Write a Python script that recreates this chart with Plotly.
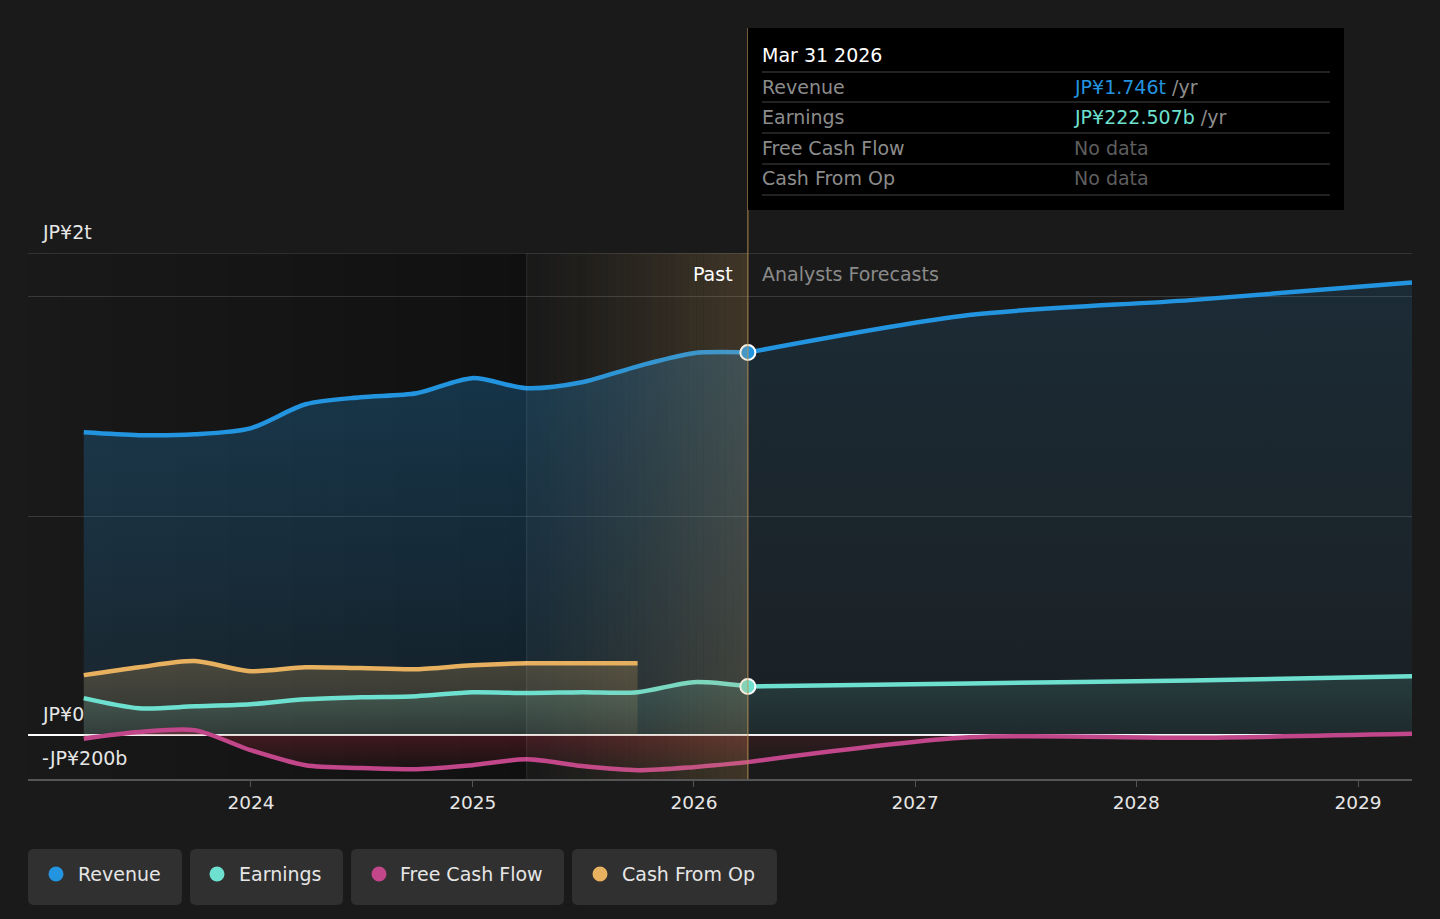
import plotly.graph_objects as go
import pandas as pd

# ---------------- data (values in JP¥ trillions) ----------------
past_dates = ["2023-03-31", "2023-06-30", "2023-09-30", "2023-12-31",
              "2024-03-31", "2024-06-30", "2024-09-30", "2024-12-31",
              "2025-03-31", "2025-06-30", "2025-09-30", "2025-12-31",
              "2026-03-31"]
revenue_past = [1.382, 1.369, 1.373, 1.400, 1.510, 1.542, 1.560, 1.629,
                1.583, 1.610, 1.683, 1.743, 1.746]
earnings_past = [0.169, 0.123, 0.132, 0.141, 0.164, 0.173, 0.178, 0.196,
                 0.192, 0.196, 0.196, 0.242, 0.2225]
fcf_past = [-0.016, 0.014, 0.023, -0.068, -0.137, -0.150, -0.155, -0.137,
            -0.110, -0.141, -0.160, -0.146, -0.123]

cfo_dates = past_dates[:11]
cfo_past = [0.274, 0.310, 0.338, 0.292, 0.310, 0.306, 0.301, 0.319,
            0.328, 0.328, 0.328]

fc_dates = ["2026-03-31", "2027-03-31", "2028-03-31", "2029-03-31"]
revenue_fc = [1.746, 1.917, 1.985, 2.065]
earnings_fc = [0.2225, 0.236, 0.249, 0.269]
fcf_fc = [-0.123, -0.010, -0.012, 0.006]

year_ticks = ["2024-01-01", "2025-01-01", "2026-01-01", "2027-01-01",
              "2028-01-01", "2029-01-01"]
year_labels = ["2024", "2025", "2026", "2027", "2028", "2029"]

series_names = ["Revenue", "Earnings", "Free Cash Flow", "Cash From Op"]
series_colors = ["#2394DF", "#6EE0CF", "#C2468A", "#E8B160"]

x_range = ["2022-12-29", "2029-03-31"]
y_range = [-0.2, 2.2]
cursor_date = "2026-03-31"
past_split = "2025-03-31"

FONT = "DejaVu Sans"
FS = 19
BG = "#1a1a1a"

# ---------------- layout helpers (pixel -> paper) ----------------
W, H = 1440, 919
L, R, T, B = 28, 28, 253, 140
PW, PH = W - L - R, H - T - B


def px2x(px):
    return (px - L) / PW


def py2y(py):
    return (H - B - py) / PH


def rounded_rect(x0, y0, x1, y1, r):
    pts = [
        ("M", [(x0 + r, y0)]),
        ("L", [(x1 - r, y0)]),
        ("Q", [(x1, y0), (x1, y0 + r)]),
        ("L", [(x1, y1 - r)]),
        ("Q", [(x1, y1), (x1 - r, y1)]),
        ("L", [(x0 + r, y1)]),
        ("Q", [(x0, y1), (x0, y1 - r)]),
        ("L", [(x0, y0 + r)]),
        ("Q", [(x0, y0), (x0 + r, y0)]),
    ]
    s = ""
    for cmd, ps in pts:
        s += cmd + " ".join(f"{px2x(a):.5f},{py2y(b):.5f}" for a, b in ps) + " "
    return s + "Z"


fig = go.Figure()


def rgba(hexc, a):
    h = hexc.lstrip("#")
    r, g, b = int(h[0:2], 16), int(h[2:4], 16), int(h[4:6], 16)
    return f"rgba({r},{g},{b},{a})"


def grad(hexc, a_low, a_high):
    return dict(type="vertical",
                colorscale=[[0, rgba(hexc, a_low)], [1, rgba(hexc, a_high)]])


line_w = 4.5
smooth = 0.8

# Revenue
fig.add_trace(go.Scatter(x=past_dates, y=revenue_past, mode="lines",
                         line=dict(color=series_colors[0], width=line_w, shape="spline", smoothing=smooth),
                         fill="tozeroy", fillgradient=grad(series_colors[0], 0.10, 0.28),
                         hoverinfo="skip", showlegend=False))
fig.add_trace(go.Scatter(x=fc_dates, y=revenue_fc, mode="lines",
                         line=dict(color=series_colors[0], width=line_w, shape="spline", smoothing=smooth),
                         fill="tozeroy", fillgradient=grad(series_colors[0], 0.05, 0.14),
                         hoverinfo="skip", showlegend=False))
# Cash From Op
fig.add_trace(go.Scatter(x=cfo_dates, y=cfo_past, mode="lines",
                         line=dict(color=series_colors[3], width=line_w, shape="spline", smoothing=smooth),
                         fill="tozeroy", fillgradient=grad(series_colors[3], 0.10, 0.24),
                         hoverinfo="skip", showlegend=False))
# Earnings
fig.add_trace(go.Scatter(x=past_dates, y=earnings_past, mode="lines",
                         line=dict(color=series_colors[1], width=line_w, shape="spline", smoothing=smooth),
                         fill="tozeroy", fillgradient=grad(series_colors[1], 0.06, 0.18),
                         hoverinfo="skip", showlegend=False))
fig.add_trace(go.Scatter(x=fc_dates, y=earnings_fc, mode="lines",
                         line=dict(color=series_colors[1], width=line_w, shape="spline", smoothing=smooth),
                         fill="tozeroy", fillgradient=grad(series_colors[1], 0.05, 0.14),
                         hoverinfo="skip", showlegend=False))
# Free Cash Flow
fig.add_trace(go.Scatter(x=past_dates, y=fcf_past, mode="lines",
                         line=dict(color=series_colors[2], width=line_w, shape="spline", smoothing=smooth),
                         fill="tozeroy", fillgradient=dict(type="vertical",
                                                           colorscale=[[0, "rgba(190,40,60,0.04)"],
                                                                       [1, "rgba(190,40,60,0.30)"]]),
                         hoverinfo="skip", showlegend=False))
fig.add_trace(go.Scatter(x=fc_dates, y=fcf_fc, mode="lines",
                         line=dict(color=series_colors[2], width=line_w, shape="spline", smoothing=smooth),
                         fill="tozeroy", fillgradient=dict(type="vertical",
                                                           colorscale=[[0, "rgba(190,40,60,0.03)"],
                                                                       [1, "rgba(190,40,60,0.15)"]]),
                         hoverinfo="skip", showlegend=False))
# cursor markers
fig.add_trace(go.Scatter(x=[cursor_date, cursor_date],
                         y=[revenue_past[-1], earnings_past[-1]], mode="markers",
                         marker=dict(size=15, color=[series_colors[0], series_colors[1]],
                                     line=dict(color="white", width=2)),
                         hoverinfo="skip", showlegend=False))

shapes = []
# darker past region gradient (below traces)
n = 30
edges = pd.date_range(pd.Timestamp(x_range[0]), pd.Timestamp(past_split), periods=n + 1)
for i in range(n):
    a = 0.02 + 0.33 * (i / (n - 1))
    shapes.append(dict(type="rect", xref="x", yref="paper", x0=edges[i], x1=edges[i + 1],
                       y0=0, y1=1, fillcolor=f"rgba(0,0,0,{a:.3f})", line=dict(width=0),
                       layer="below"))
# golden highlight gradient (above traces)
edges2 = pd.date_range(pd.Timestamp(past_split), pd.Timestamp(cursor_date), periods=n + 1)
for i in range(n):
    a = 0.21 * ((i + 0.5) / n) ** 1.2
    shapes.append(dict(type="rect", xref="x", yref="paper", x0=edges2[i], x1=edges2[i + 1],
                       y0=0, y1=1, fillcolor=f"rgba(210,165,95,{a:.3f})", line=dict(width=0),
                       layer="above"))
# top boundary line of the plot
shapes.append(dict(type="line", xref="paper", yref="y", x0=0, x1=1, y0=y_range[1], y1=y_range[1],
                   line=dict(color="rgba(255,255,255,0.22)", width=1.2)))
# vertical lines
shapes.append(dict(type="line", xref="x", yref="paper", x0=past_split, x1=past_split,
                   y0=0, y1=1, line=dict(color="rgba(255,255,255,0.10)", width=1)))
shapes.append(dict(type="line", xref="x", yref="paper", x0=cursor_date, x1=cursor_date,
                   y0=0, y1=py2y(28), line=dict(color="rgba(190,150,85,0.75)", width=1.2)))
# tooltip box
shapes.append(dict(type="rect", xref="paper", yref="paper", x0=px2x(748), x1=px2x(1344),
                   y0=py2y(210), y1=py2y(28), fillcolor="#000000", line=dict(width=0)))
for sy in [72, 102, 133, 164, 195]:
    shapes.append(dict(type="line", xref="paper", yref="paper", x0=px2x(762), x1=px2x(1330),
                       y0=py2y(sy), y1=py2y(sy), line=dict(color="#444444", width=1.2)))

# legend pills
pills = [(28, 182), (190, 343), (351, 564), (572, 777)]
dots_x = [56, 217, 379, 600]
text_x = [78, 239, 400, 622]
for (a, b), dx, c in zip(pills, dots_x, series_colors):
    shapes.append(dict(type="path", xref="paper", yref="paper",
                       path=rounded_rect(a, 849, b, 905, 6),
                       fillcolor="#303030", line=dict(width=0)))
    shapes.append(dict(type="circle", xref="paper", yref="paper",
                       x0=px2x(dx - 7.5), x1=px2x(dx + 7.5),
                       y0=py2y(874 + 7.5), y1=py2y(874 - 7.5),
                       fillcolor=c, line=dict(width=0)))

OFF = 2  # annotation inner padding compensation
annotations = []
for name, tx in zip(series_names, text_x):
    annotations.append(dict(xref="paper", yref="paper", x=px2x(tx - OFF), y=py2y(874),
                            text=name, showarrow=False, xanchor="left", yanchor="middle",
                            font=dict(family=FONT, size=FS, color="#e6e6e6")))

# y labels
for val, lab in [(2.2, "JP¥2t"), (0, "JP¥0"), (-0.2, "-JP¥200b")]:
    annotations.append(dict(xref="paper", yref="y", x=px2x(42 - OFF), y=val, yshift=21,
                            text=lab, showarrow=False, xanchor="left", yanchor="middle",
                            font=dict(family=FONT, size=FS, color="#e6e6e6")))

annotations.append(dict(xref="paper", yref="paper", x=px2x(733 + OFF), y=py2y(274), text="Past",
                        showarrow=False, xanchor="right", yanchor="middle",
                        font=dict(family=FONT, size=FS, color="#ffffff")))
annotations.append(dict(xref="paper", yref="paper", x=px2x(762 - OFF), y=py2y(274),
                        text="Analysts Forecasts", showarrow=False, xanchor="left",
                        yanchor="middle", font=dict(family=FONT, size=FS, color="#8a8a8a")))

# tooltip text
annotations.append(dict(xref="paper", yref="paper", x=px2x(762 - OFF), y=py2y(55), text="Mar 31 2026",
                        showarrow=False, xanchor="left", yanchor="middle",
                        font=dict(family=FONT, size=FS, color="#ffffff")))
rows = [("Revenue", f"<span style='color:{series_colors[0]}'>JP¥1.746t</span> /yr"),
        ("Earnings", f"<span style='color:{series_colors[1]}'>JP¥222.507b</span> /yr"),
        ("Free Cash Flow", "<span style='color:#5e5e5e'>No data</span>"),
        ("Cash From Op", "<span style='color:#5e5e5e'>No data</span>")]
for (lab, val), ry in zip(rows, [87, 117, 148, 178]):
    annotations.append(dict(xref="paper", yref="paper", x=px2x(762 - OFF), y=py2y(ry), text=lab,
                            showarrow=False, xanchor="left", yanchor="middle",
                            font=dict(family=FONT, size=FS, color="#8c8c8c")))
    annotations.append(dict(xref="paper", yref="paper", x=px2x(1074 - OFF), y=py2y(ry), text=val,
                            showarrow=False, xanchor="left", yanchor="middle",
                            font=dict(family=FONT, size=FS, color="#8c8c8c")))

fig.update_layout(
    width=W, height=H, autosize=False,
    margin=dict(l=L, r=R, t=T, b=B, pad=0),
    paper_bgcolor=BG, plot_bgcolor=BG,
    font=dict(family=FONT, size=FS, color="#e6e6e6"),
    showlegend=False,
    shapes=shapes, annotations=annotations,
    xaxis=dict(range=x_range, type="date", tickvals=year_ticks, ticktext=year_labels,
               showgrid=False, zeroline=False, showline=True, linecolor="#555555",
               linewidth=1.5, ticks="outside", ticklen=6, tickcolor="#555555",
               tickfont=dict(family=FONT, size=18.5, color="#e6e6e6"), fixedrange=True),
    yaxis=dict(range=y_range, tickvals=[1, 2], showticklabels=False,
               showgrid=True, gridcolor="rgba(255,255,255,0.14)", gridwidth=1,
               zeroline=True, zerolinecolor="#ffffff", zerolinewidth=1.5,
               showline=False, fixedrange=True),
)

fig.write_html("out.html", config={"displayModeBar": False},
               post_script="document.body.style.margin='0';document.body.style.background='#1a1a1a';")
